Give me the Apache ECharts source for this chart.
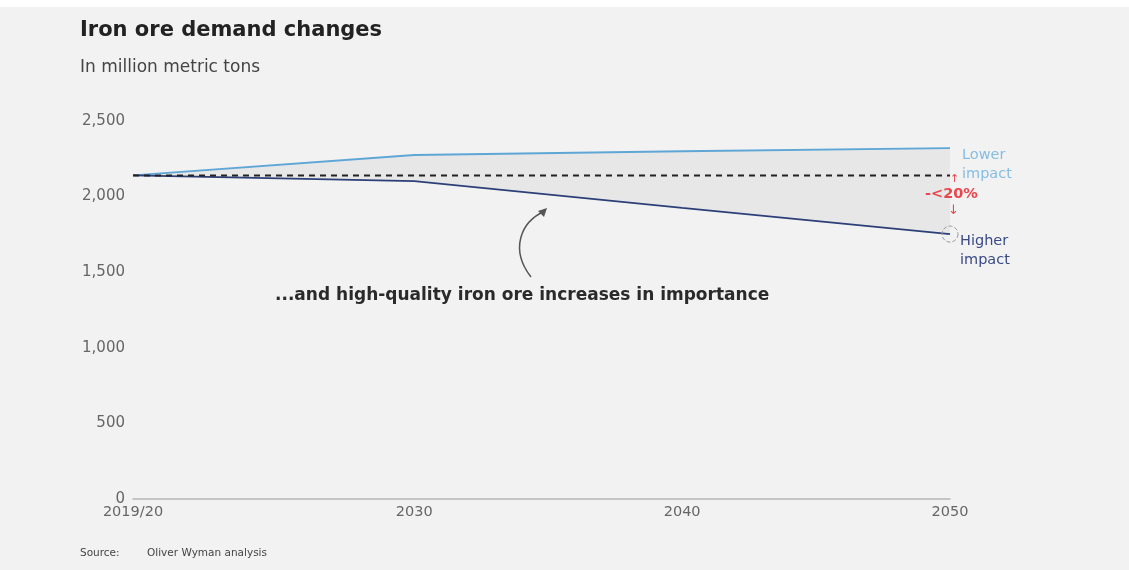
<!DOCTYPE html>
<html lang="en">
<head>
<meta charset="utf-8">
<title>Iron ore demand changes</title>
<script src="https://cdn.jsdelivr.net/npm/echarts@6/dist/echarts.min.js"></script>
<style>
  html, body { margin: 0; padding: 0; background: #ffffff; }
  #chart { width: 1129px; height: 570px; }
</style>
</head>
<body>
<div id="chart"></div>
<script>
// years (2019.5 stands for 2019/20)
var years = [2019.5, 2030, 2040, 2050];
var xTicks = [2019.5, 2030, 2040, 2050];
var xTickLabels = ['2019/20', '2030', '2040', '2050'];
// million metric tons
var lowerImpact = [2140, 2275, 2300, 2320];
var higherImpact = [2140, 2103, 1925, 1752];
var baseline = [2140, 2140, 2140, 2140];

function pairs(vals) {
  var out = [];
  for (var i = 0; i < years.length; i++) out.push([years[i], vals[i]]);
  return out;
}

var myChart = echarts.init(document.getElementById('chart'));
var font = '"DejaVu Sans", Verdana, sans-serif';
var bg = '#f2f2f2';

var option = {
  backgroundColor: bg,
  animation: false,
  textStyle: { fontFamily: font },
  grid: { left: 133, right: 179, top: 121, bottom: 71 },
  xAxis: {
    type: 'value',
    min: 2019.5,
    max: 2050,
    z: 6,
    splitLine: { show: false },
    axisTick: { show: false },
    axisLine: { show: true, lineStyle: { color: '#b5b5b5', width: 1.5 } },
    axisLabel: {
      customValues: xTicks,
      color: '#666',
      fontSize: 14.5,
      margin: 6,
      formatter: function (v) {
        var idx = xTicks.indexOf(v);
        return idx >= 0 ? xTickLabels[idx] : '';
      }
    }
  },
  yAxis: {
    type: 'value',
    min: 0,
    max: 2500,
    interval: 500,
    splitLine: { show: false },
    axisLine: { show: false },
    axisTick: { show: false },
    axisLabel: {
      color: '#666',
      fontSize: 15,
      margin: 8,
      formatter: function (v) { return v.toLocaleString('en-US'); }
    }
  },
  series: [
    {
      // grey fill under the lower-impact line, later covered below the higher-impact line
      name: 'Lower impact',
      type: 'line',
      data: pairs(lowerImpact),
      showSymbol: false,
      z: 2,
      lineStyle: { color: '#5ea6d6', width: 1.8 },
      areaStyle: { color: '#e7e7e7', opacity: 1 },
      endLabel: {
        show: true,
        formatter: 'Lower\nimpact',
        color: '#86bde3',
        fontSize: 14.5,
        lineHeight: 19,
        offset: [4, 17]
      }
    },
    {
      name: 'Higher impact',
      type: 'line',
      data: pairs(higherImpact),
      showSymbol: false,
      z: 3,
      lineStyle: { color: '#2d3f78', width: 1.8 },
      areaStyle: { color: bg, opacity: 1 },
      endLabel: {
        show: true,
        formatter: 'Higher\nimpact',
        color: '#3b4a86',
        fontSize: 14.5,
        lineHeight: 19,
        offset: [2, 17]
      },
      markPoint: {
        symbol: 'circle',
        symbolSize: 16,
        data: [{ coord: [years[years.length - 1], higherImpact[higherImpact.length - 1]] }],
        itemStyle: { color: 'rgba(0,0,0,0)', borderColor: '#9a9a9a', borderWidth: 1, borderType: 'dashed' },
        label: { show: false }
      }
    },
    {
      name: 'Baseline',
      type: 'line',
      data: pairs(baseline),
      showSymbol: false,
      z: 5,
      lineStyle: { color: '#222', width: 2, type: [6, 5] }
    }
  ],
  graphic: [
    { type: 'rect', z: 100, left: 0, top: 0, shape: { width: 1129, height: 7 }, style: { fill: '#ffffff' } },
    { type: 'text', z: 100, left: 80, top: 20, style: { text: 'Iron ore demand changes', font: 'bold 21px ' + font, fill: '#222' } },
    { type: 'text', z: 100, left: 80, top: 59, style: { text: 'In million metric tons', font: '17px ' + font, fill: '#444' } },
    { type: 'text', z: 100, left: 80, top: 548, style: { text: 'Source:', font: '10.5px ' + font, fill: '#444' } },
    { type: 'text', z: 100, left: 147, top: 548, style: { text: 'Oliver Wyman analysis', font: '10.5px ' + font, fill: '#444' } },
    { type: 'text', z: 100, left: 275, top: 287, style: { text: '...and high-quality iron ore increases in importance', font: 'bold 17px ' + font, fill: '#2a2a2a' } },
    {
      type: 'bezierCurve', z: 100,
      shape: { x1: 531, y1: 277, x2: 545, y2: 211, cpx1: 510, cpy1: 250, cpx2: 520, cpy2: 222 },
      style: { stroke: '#555', lineWidth: 1.5, fill: null }
    },
    { type: 'polygon', z: 100, shape: { points: [[547, 208], [538, 211], [544, 217]] }, style: { fill: '#555' } },
    { type: 'text', z: 100, x: 925, y: 187, style: { text: '-<20%', fontSize: 14.5, fontWeight: 'bold', fontFamily: font, fill: '#e8474e' } },
    { type: 'text', z: 100, x: 950, y: 174, style: { text: '\u2191', fontSize: 11, fontFamily: font, fill: '#e8474e' } },
    { type: 'text', z: 100, x: 948, y: 204, style: { text: '\u2193', fontSize: 13, fontFamily: font, fill: '#e8474e' } }
  ]
};
myChart.setOption(option);
</script>
</body>
</html>
